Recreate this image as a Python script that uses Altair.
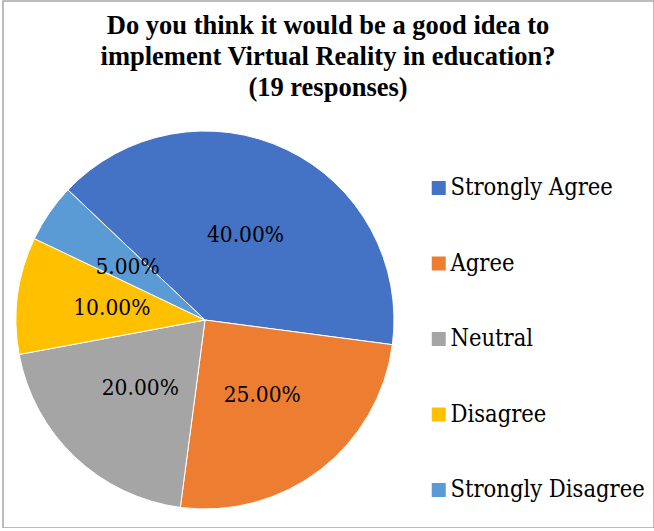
import altair as alt
import pandas as pd
import math

categories = ["Strongly Agree", "Agree", "Neutral", "Disagree", "Strongly Disagree"]
percentages = [40, 25, 20, 10, 5]
colors = ["#4472C4", "#ED7D31", "#A5A5A5", "#FFC000", "#5B9BD5"]
title_lines = ["Do you think it would be a good idea to",
               "implement Virtual Reality in education?",
               "(19 responses)"]

df = pd.DataFrame({"category": categories, "value": percentages,
                   "order": list(range(len(categories)))})

start = math.radians(-46.5)
theta_scale = alt.Scale(range=[start, start + 2 * math.pi])
CX, CY, R = 202, 319, 189
TITLE_FONT = "Liberation Serif"
BODY_FONT = "DejaVu Serif Condensed"
LEG_SIZE = 23.5

base = alt.Chart(df).transform_calculate(frac="datum.value / 100")

arcs = base.mark_arc(stroke="white", strokeWidth=1, outerRadius=R).encode(
    theta=alt.Theta("value:Q", stack=True, scale=theta_scale),
    order=alt.Order("order:Q"),
    color=alt.Color(
        "category:N",
        scale=alt.Scale(domain=categories, range=colors),
        sort=categories,
        legend=alt.Legend(
            title=None, orient="none", legendX=424, legendY=187 - LEG_SIZE / 2,
            symbolType="square", symbolSize=196, symbolStrokeWidth=0,
            labelFont=BODY_FONT, labelFontSize=LEG_SIZE, labelColor="#000000",
            labelLimit=400, labelOffset=0, rowPadding=74 - LEG_SIZE, padding=0,
        ),
    ),
    x=alt.value(CX), y=alt.value(CY),
)

labels = base.mark_text(radius=94, font=BODY_FONT, fontSize=22.5,
                        color="#000000", align="center", baseline="middle").encode(
    theta=alt.Theta("value:Q", stack=True, scale=theta_scale),
    order=alt.Order("order:Q"),
    text=alt.Text("frac:Q", format=".2%"),
    x=alt.value(CX), y=alt.value(CY),
)

title = alt.Chart(pd.DataFrame({"t": [0]})).mark_text(
    text=title_lines, font=TITLE_FONT, fontSize=26.5, fontWeight="bold",
    color="#000000", align="center", baseline="alphabetic", lineHeight=31,
).encode(x=alt.value(325), y=alt.value(33))

chart = alt.layer(arcs, labels, title).properties(
    width=651, height=527,
    autosize=alt.AutoSizeParams(type="none"),
    padding={"left": 3, "top": 1, "right": 0, "bottom": 0},
    background="white",
).configure_view(stroke="#A6A6A6", strokeWidth=1.5)

chart.save("out.html", embed_options={"renderer": "svg", "actions": False})
